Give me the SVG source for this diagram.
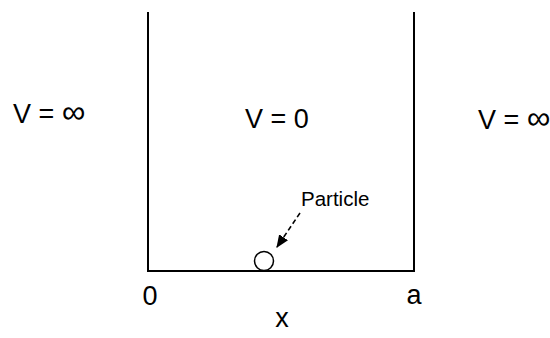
<svg xmlns="http://www.w3.org/2000/svg" width="550" height="338" viewBox="0 0 550 338">
<style>
text{font-family:"Liberation Sans",Arial,sans-serif;fill:#000}
.big{font-size:27px}
.inf{font-size:33px}
.small{font-size:20.5px}
.wall{stroke:#000;stroke-width:2;fill:none}
</style>
<defs>
<marker id="ah" viewBox="0 0 12 10" refX="11" refY="5" markerWidth="8" markerHeight="7" orient="auto" markerUnits="strokeWidth">
<path d="M0,0 L12,5 L0,10 z" fill="#000"/>
</marker>
</defs>
<rect width="550" height="338" fill="#fff"/>
<g id="well">
<path class="wall" d="M148,12 V271 H414 V12"/>
</g>
<g id="particle">
<circle cx="264" cy="261" r="9.5" fill="#fff" stroke="#000" stroke-width="1.5"/>
</g>
<g id="labels">
<text class="big" x="13" y="123">V = <tspan class="inf">∞</tspan></text>
<text class="big" x="245" y="128">V = 0</text>
<text class="big" x="478" y="129">V = <tspan class="inf">∞</tspan></text>
<text class="big" x="150" y="305" text-anchor="middle">0</text>
<text class="big" x="414" y="304" text-anchor="middle">a</text>
<text class="big" x="282" y="327" text-anchor="middle">x</text>
<text class="small" x="301" y="206">Particle</text>
</g>
<g id="connectors">
<line x1="300" y1="213" x2="277" y2="247" stroke="#000" stroke-width="1.6" stroke-dasharray="5,3" marker-end="url(#ah)"/>
</g>
</svg>
